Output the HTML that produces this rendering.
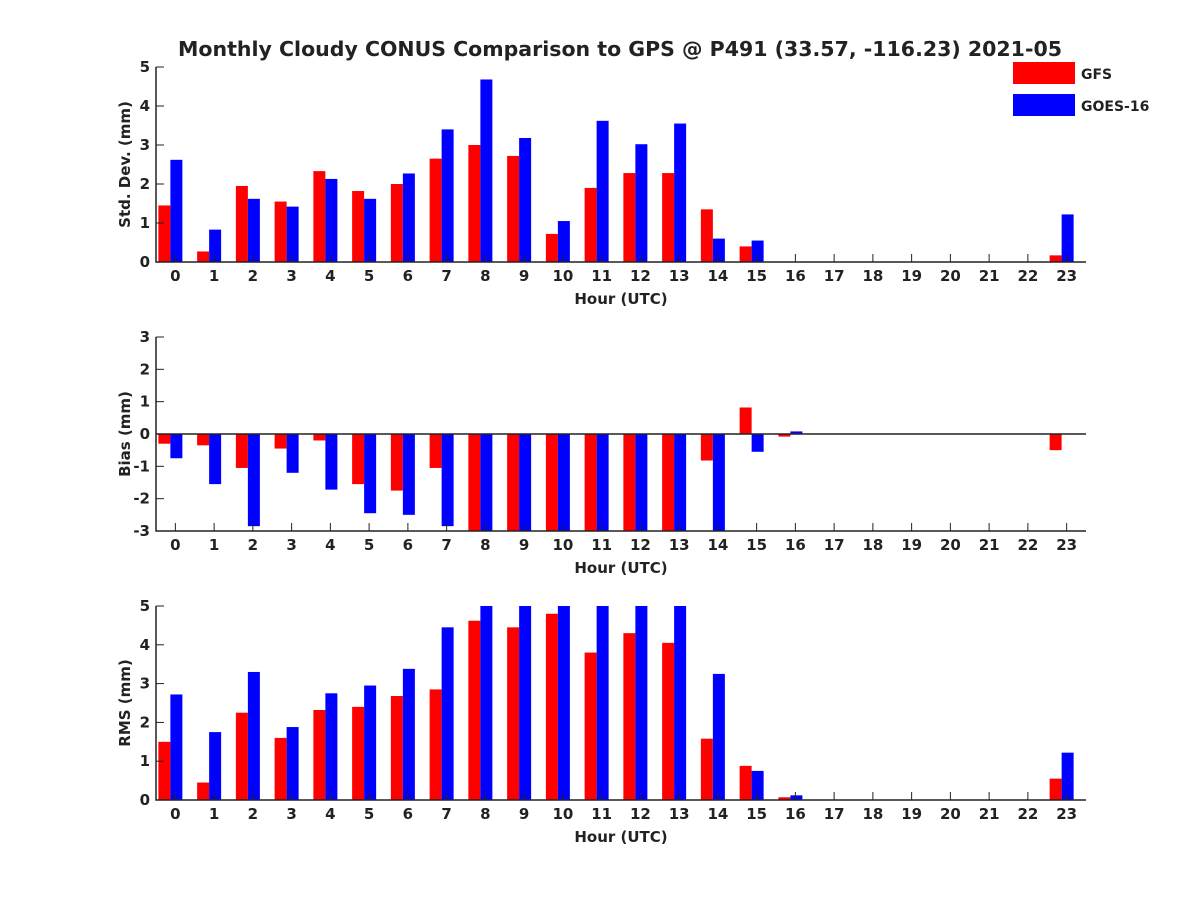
<!DOCTYPE html>
<html><head><meta charset="utf-8"><style>
body{margin:0;background:#fff}
svg text{font-family:"DejaVu Sans","Liberation Sans",sans-serif;font-weight:bold;fill:#222}
</style></head><body>
<svg id="chart" width="1200" height="900" xmlns="http://www.w3.org/2000/svg">
<rect width="1200" height="900" fill="#fff"/>
<text x="620" y="56" font-size="20.5" text-anchor="middle">Monthly Cloudy CONUS Comparison to GPS @ P491 (33.57, -116.23) 2021-05</text>
<g>
<rect x="1013" y="62" width="62" height="22" fill="#ff0000"/>
<text x="1081" y="79" font-size="14">GFS</text>
<rect x="1013" y="94" width="62" height="22" fill="#0000ff"/>
<text x="1081" y="111" font-size="14">GOES-16</text>
</g>
</svg>
<script>
const hours=[0,1,2,3,4,5,6,7,8,9,10,11,12,13,14,15,16,17,18,19,20,21,22,23];
const stdGFS=[1.45,0.27,1.95,1.55,2.33,1.82,2.0,2.65,3.0,2.72,0.72,1.9,2.28,2.28,1.35,0.4,0,0,0,0,0,0,0,0.17];
const stdGOES=[2.62,0.83,1.62,1.42,2.13,1.62,2.27,3.4,4.68,3.18,1.05,3.62,3.02,3.55,0.6,0.55,0,0,0,0,0,0,0,1.22];
const biasGFS=[-0.3,-0.35,-1.05,-0.45,-0.2,-1.55,-1.75,-1.05,-3.5,-3.5,-3.5,-3.5,-3.5,-3.5,-0.82,0.82,-0.08,0,0,0,0,0,0,-0.5];
const biasGOES=[-0.75,-1.55,-2.85,-1.2,-1.72,-2.45,-2.5,-2.85,-3.5,-3.5,-3.5,-3.5,-3.5,-3.5,-3.5,-0.55,0.08,0,0,0,0,0,0,0];
const rmsGFS=[1.5,0.45,2.25,1.6,2.32,2.4,2.68,2.85,4.62,4.45,4.8,3.8,4.3,4.05,1.58,0.88,0.07,0,0,0,0,0,0,0.55];
const rmsGOES=[2.72,1.75,3.3,1.88,2.75,2.95,3.38,4.45,5.5,5.5,5.5,5.5,5.5,5.5,3.25,0.75,0.12,0,0,0,0,0,0,1.22];
const stdTicks=[0,1,2,3,4,5];
const biasTicks=[-3,-2,-1,0,1,2,3];
const rmsTicks=[0,1,2,3,4,5];
const NS='http://www.w3.org/2000/svg';
const svg=document.getElementById('chart');
const X0=156,X1=1086;
function xs(h){return X0+(h+0.5)/24*(X1-X0);}
function mk(tag,attrs,parent){const e=document.createElementNS(NS,tag);for(const k in attrs)e.setAttribute(k,attrs[k]);(parent||svg).appendChild(e);return e;}
function panel(id,top,bot,ymin,ymax,ticks,ylabel,a,b){
  const g=mk('g',{});
  
  
  const ys=v=>bot-(v-ymin)/(ymax-ymin)*(bot-top);
  const cp=mk('clipPath',{id:'cp'+id},g);
  mk('rect',{x:X0,y:top,width:X1-X0,height:bot-top},cp);
  const bars=mk('g',{'clip-path':'url(#cp'+id+')'},g);
  const z=ys(Math.max(ymin,0));
  hours.forEach((h,i)=>{
    const c=xs(h);
    [[a[i],c-17,'#ff0000','gfs'],[b[i],c-5,'#0000ff','goes']].forEach(([v,x,col,nm])=>{
      if(v===0)return;
      const y=ys(v);
      const r=mk('rect',{x:x,y:Math.min(y,z),width:12,height:Math.abs(y-z),fill:col},bars);
      
      
    });
  });
  if(ymin<0){const zl=mk('line',{x1:X0,x2:X1,y1:z,y2:z,stroke:'#222','stroke-width':1.5},g);
    }
  const ax=mk('path',{d:`M${X0},${top}V${bot}H${X1}`,fill:'none',stroke:'#222','stroke-width':1.5},g);
  
  ticks.forEach(t=>{const y=ys(t);
    mk('line',{x1:X0,x2:X0+8,y1:y,y2:y,stroke:'#222'},g);
    const tx=mk('text',{x:X0-6,y:y+5,'font-size':15,'text-anchor':'end'},g);tx.textContent=t;
    });
  hours.forEach(h=>{const x=xs(h);
    mk('line',{x1:x,x2:x,y1:bot,y2:bot-8,stroke:'#222'},g);
    const tx=mk('text',{x:x,y:bot+19,'font-size':15,'text-anchor':'middle'},g);tx.textContent=h;
    });
  const xl=mk('text',{x:621,y:bot+42,'font-size':15,'text-anchor':'middle'},g);xl.textContent='Hour (UTC)';
  
  const yl=mk('text',{x:0,y:0,'font-size':15,'text-anchor':'middle',transform:`translate(130,${(top+bot)/2}) rotate(-90)`},g);yl.textContent=ylabel;
  
}
panel('std',67,262,0,5,stdTicks,'Std. Dev. (mm)',stdGFS,stdGOES);
panel('bias',337,531,-3,3,biasTicks,'Bias (mm)',biasGFS,biasGOES);
panel('rms',606,800,0,5,rmsTicks,'RMS (mm)',rmsGFS,rmsGOES);
</script>
</body></html>
